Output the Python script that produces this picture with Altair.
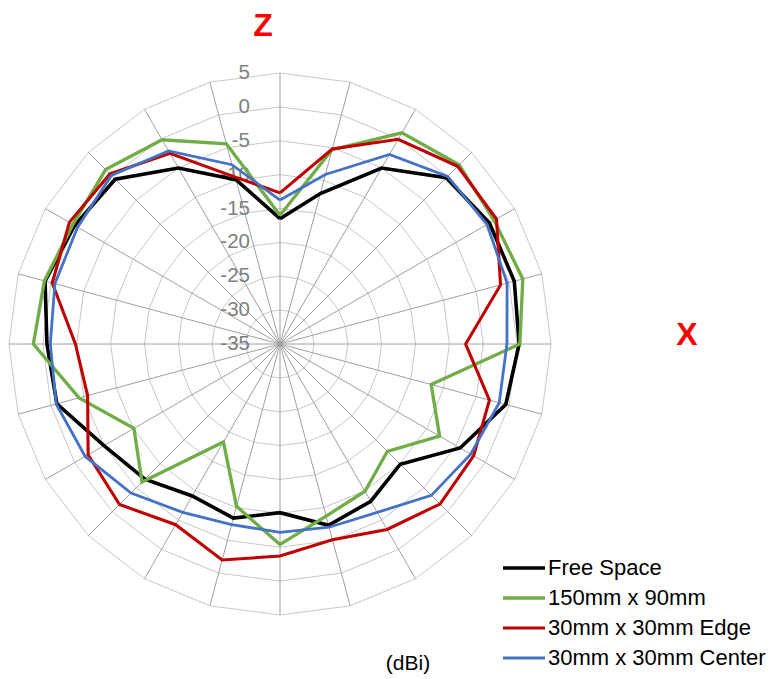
import altair as alt
import pandas as pd

# ---- data ----
angles = list(range(0, 360, 15))
series_names = ["Free Space", "150mm x 90mm", "30mm x 30mm Edge", "30mm x 30mm Center"]
series_colors = ["#000000", "#70AD47", "#C00000", "#4472C4"]

free_space = [-16.5, -12.0, -5.0, -0.3, 0.7, 0.8, 0.3, -0.5, -4.3, -9.9, -8.2, -7.3,
              -10.1, -8.4, -9.1, -6.8, -5.0, -0.9, -0.6, 0.9, 0.0, -0.6, -5.0, -9.9]
green_150x90 = [-16.0, -5.3, 1.0, 2.4, 1.5, 2.1, 0.4, -11.9, -7.8, -12.6, -9.9, -8.7,
                -5.4, -10.2, -18.3, -6.2, -10.1, -4.3, 1.4, 1.0, 0.3, 1.4, -0.2, -4.4]
red_edge = [-12.7, -5.2, -0.1, 2.1, 1.9, -1.3, -7.6, -3.0, -2.0, -1.6, -3.4, -5.1,
            -3.7, -2.0, -4.2, -1.5, -2.3, -5.6, -4.8, -0.2, 0.9, 0.5, -2.5, -9.5]
blue_center = [-13.75, -9.1, -2.7, 0.0, 0.3, -0.3, -1.5, -1.5, -2.5, -3.4, -6.3, -7.0,
               -7.2, -7.4, -6.3, -3.9, -1.8, -0.8, -1.1, -0.6, -0.5, 0.2, -2.1, -7.6]

levels = [5, 0, -5, -10, -15, -20, -25, -30, -35]
r_min = -35

# ---- tables ----
rows = []
for name, vals in zip(series_names, [free_space, green_150x90, red_edge, blue_center]):
    for i, (a, v) in enumerate(zip(angles + [angles[0]], vals + [vals[0]])):
        rows.append({"series": name, "angle": a, "value": v, "order": i})
df = pd.DataFrame(rows)

ring_rows = []
for lv in levels:
    if lv == r_min:
        continue
    for i, a in enumerate(angles + [angles[0]]):
        ring_rows.append({"level": lv, "angle": a, "value": lv, "order": i})
rings = pd.DataFrame(ring_rows)

spoke_rows = []
for a in angles:
    spoke_rows.append({"angle": a, "value": r_min, "order": 0})
    spoke_rows.append({"angle": a, "value": max(levels), "order": 1})
spokes = pd.DataFrame(spoke_rows)

labels = pd.DataFrame({"angle": [0] * len(levels), "value": levels,
                       "label": [str(v) for v in levels]})

# ---- geometry ----
W, H = 763, 669
ppu = 6.775
cx, cy = 272, 336
xdom = [-cx / ppu, (W - cx) / ppu]
ydom = [(cy - H) / ppu, cy / ppu]

X = alt.X("px:Q", scale=alt.Scale(domain=xdom, nice=False, zero=False), axis=None)
Y = alt.Y("py:Q", scale=alt.Scale(domain=ydom, nice=False, zero=False), axis=None)


def polar(ch):
    return ch.transform_calculate(
        px=f"(datum.value - ({r_min})) * sin(datum.angle * PI / 180)",
        py=f"(datum.value - ({r_min})) * cos(datum.angle * PI / 180)",
    )


ring_layer = polar(alt.Chart(rings)).mark_line(color="#c8c8c8", strokeWidth=1).encode(
    x=X, y=Y, detail="level:N", order="order:Q")
spoke_layer = polar(alt.Chart(spokes)).mark_line(color="#a0a0a0", strokeWidth=1).encode(
    x=X, y=Y, detail="angle:N", order="order:Q")
label_layer = polar(alt.Chart(labels)).mark_text(
    align="right", baseline="middle", dx=-30, fontSize=20.5, color="#808080",
    font="Liberation Sans").encode(x=X, y=Y, text="label:N")

leg = dict(title=None, orient="none", legendX=493, legendY=549,
           symbolType="stroke", symbolSize=1764, clipHeight=22,
           labelFontSize=22, labelFont="Liberation Sans", labelLimit=400,
           labelColor="#000000", rowPadding=8, labelOffset=1, padding=0)

line_layer = polar(alt.Chart(df)).mark_line(strokeJoin="miter").encode(
    x=X, y=Y, order="order:Q",
    color=alt.Color("series:N", scale=alt.Scale(domain=series_names, range=series_colors),
                    sort=series_names, legend=alt.Legend(**leg)),
    strokeWidth=alt.StrokeWidth("series:N",
                                scale=alt.Scale(domain=series_names, range=[3.6, 2.8, 2.8, 2.8]),
                                sort=series_names, legend=alt.Legend(**leg)),
    detail="series:N",
)

z_text = alt.Chart(pd.DataFrame({"t": ["Z"]})).mark_text(
    fontSize=32, fontWeight="bold", color="#FF0000", font="Liberation Sans",
    align="center", baseline="middle").encode(x=alt.value(255), y=alt.value(18), text="t:N")
x_text = alt.Chart(pd.DataFrame({"t": ["X"]})).mark_text(
    fontSize=32, fontWeight="bold", color="#FF0000", font="Liberation Sans",
    align="center", baseline="middle").encode(x=alt.value(679), y=alt.value(327), text="t:N")
dbi_text = alt.Chart(pd.DataFrame({"t": ["(dBi)"]})).mark_text(
    fontSize=21, color="#000000", font="Liberation Sans",
    align="center", baseline="middle").encode(x=alt.value(400), y=alt.value(656), text="t:N")

chart = alt.layer(ring_layer, spoke_layer, label_layer, line_layer, z_text, x_text, dbi_text).properties(
    width=W, height=H, padding=0,
    autosize=alt.AutoSizeParams(type="none"),
).configure_view(stroke=None)

chart.save("out.html", embed_options={"renderer": "svg", "actions": False})
